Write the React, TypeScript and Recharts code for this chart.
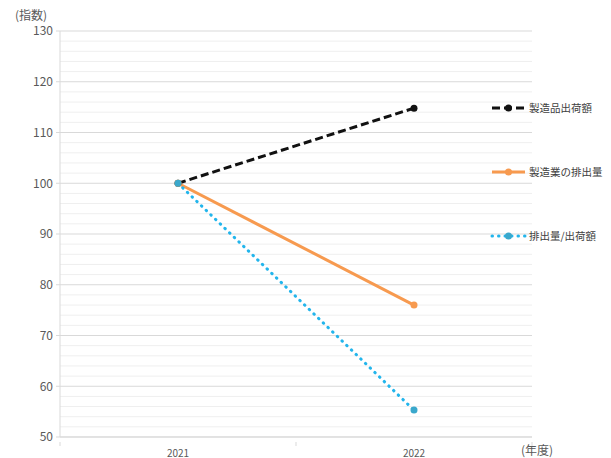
import { LineChart, Line, XAxis, YAxis, CartesianGrid, ReferenceLine } from 'recharts'

const years = ['2021', '2022']
const shipments = [100, 114.8]
const emissions = [100, 76]
const intensity = [100, 55.3]
const yTicks = [50, 60, 70, 80, 90, 100, 110, 120, 130]
const minorTicks = [52, 54, 56, 58, 62, 64, 66, 68, 72, 74, 76, 78, 82, 84, 86, 88, 92, 94, 96, 98, 102, 104, 106, 108, 112, 114, 116, 118, 122, 124, 126, 128]

const seriesInfo = [
  { key: 'shipments', name: '製造品出荷額', color: '#111111', dot: '#111111', dash: '8 4', width: 3 },
  { key: 'emissions', name: '製造業の排出量', color: '#f79a4f', dot: '#f79a4f', dash: undefined, width: 3 },
  { key: 'intensity', name: '排出量/出荷額', color: '#22b5ec', dot: '#3aa8cc', dash: '0.5 6', width: 3 },
]

const data = years.map((y, i) => ({
  year: y,
  shipments: shipments[i],
  emissions: emissions[i],
  intensity: intensity[i],
}))

const FONT = '"Noto Sans CJK JP", "Noto Sans", sans-serif'

function XTick(props: any) {
  const { x, y, payload, index } = props
  const half = 118
  return (
    <g>
      <line x1={x - half} x2={x - half} y1={y - 3} y2={y + 1} stroke="#d9d9d9" />
      {index === years.length - 1 && (
        <line x1={x + half} x2={x + half} y1={y - 3} y2={y + 1} stroke="#d9d9d9" />
      )}
      <text x={x} y={y + 12} textAnchor="middle" fontSize={10} fill="#595959" fontFamily={FONT}>
        {payload.value}
      </text>
    </g>
  )
}

function LegendBox() {
  const tops = [98, 162, 226]
  return (
    <div style={{ position: 'absolute', left: 490, top: 0, width: 121, height: 300 }}>
      {seriesInfo.map((s, i) => (
        <svg key={s.key} width={121} height={20} style={{ position: 'absolute', left: 0, top: tops[i] }}>
          <line
            x1={2}
            x2={35}
            y1={10}
            y2={10}
            stroke={s.color}
            strokeWidth={s.width}
            strokeDasharray={s.dash}
            strokeLinecap={s.key === 'intensity' ? 'round' : 'butt'}
          />
          <circle cx={18.5} cy={10} r={3.5} fill={s.dot} />
          <text x={39} y={14} fontSize={10.5} fill="#404040" fontFamily={FONT}>
            {s.name}
          </text>
        </svg>
      ))}
    </div>
  )
}

export default function App() {
  return (
    <div style={{ position: 'absolute', left: 0, top: 0, width: 611, height: 458, background: '#fff' }}>
      <LineChart width={611} height={458} data={data} margin={{ top: 31, right: 79, bottom: -9, left: 0 }}>
        {minorTicks.map((v) => (
          <ReferenceLine key={v} y={v} stroke="#efefef" strokeWidth={1} ifOverflow="hidden" />
        ))}
        <CartesianGrid vertical={false} stroke="#d9d9d9" />
        <XAxis
          dataKey="year"
          height={30}
          axisLine={{ stroke: '#d9d9d9' }}
          tickLine={false}
          tick={<XTick />}
          interval={0}
          padding={{ left: 118, right: 118 }}
        />
        <YAxis
          width={60}
          domain={[50, 130]}
          ticks={yTicks}
          interval={0}
          axisLine={{ stroke: '#d9d9d9' }}
          tickLine={{ stroke: '#d9d9d9' }}
          tickSize={4}
          tickMargin={3}
          tick={{ fontSize: 12, fill: '#595959', fontFamily: FONT }}
        />
        {seriesInfo.map((s) => (
          <Line
            key={s.key}
            dataKey={s.key}
            name={s.name}
            stroke={s.color}
            strokeWidth={s.width}
            strokeDasharray={s.dash}
            strokeLinecap={s.key === 'intensity' ? 'round' : 'butt'}
            dot={{ r: 3.5, fill: s.dot, stroke: s.dot, strokeWidth: 0, strokeDasharray: '' }}
            activeDot={false}
            isAnimationActive={false}
          />
        ))}
        <text x={15} y={20} fontSize={12} fill="#595959" fontFamily={FONT}>(指数)</text>
        <text x={521} y={455} fontSize={12} fill="#595959" fontFamily={FONT}>(年度)</text>
      </LineChart>
      <LegendBox />
    </div>
  )
}
